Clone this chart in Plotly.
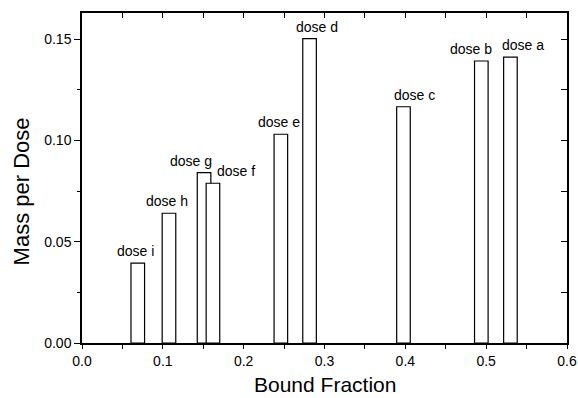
import plotly.graph_objects as go

labels = ["dose i", "dose h", "dose g", "dose f", "dose e", "dose d", "dose c", "dose b", "dose a"]
bound_fraction = [0.069, 0.1076, 0.151, 0.162, 0.246, 0.2815, 0.3977, 0.494, 0.530]
mass_per_dose = [0.0395, 0.0641, 0.0842, 0.0789, 0.1031, 0.1503, 0.1167, 0.1393, 0.1412]
bar_width = 0.0168
x_ticks = [0.0, 0.1, 0.2, 0.3, 0.4, 0.5, 0.6]
x_ticklabels = ["0.0", "0.1", "0.2", "0.3", "0.4", "0.5", "0.6"]
y_ticks = [0.00, 0.05, 0.10, 0.15]
y_ticklabels = ["0.00", "0.05", "0.10", "0.15"]

label_xshift = [-2, -2, -13, 23, -2, 7, 11, -10, 13]

FONT = "Liberation Sans, Arial, sans-serif"

fig = go.Figure()
fig.add_trace(go.Bar(
    x=bound_fraction, y=mass_per_dose, width=[bar_width] * len(bound_fraction),
    marker=dict(color="white", line=dict(color="black", width=1.2)),
    showlegend=False, hoverinfo="skip",
))
# invisible trace to activate top/right axes
fig.add_trace(go.Scatter(x=[0], y=[0], xaxis="x2", yaxis="y2", mode="markers",
                         marker=dict(opacity=0), showlegend=False, hoverinfo="skip"))

for lab, xv, yv, dx in zip(labels, bound_fraction, mass_per_dose, label_xshift):
    fig.add_annotation(x=xv, y=yv, text=lab, showarrow=False, xanchor="center", yanchor="bottom",
                       xshift=dx, yshift=2, font=dict(family=FONT, size=14, color="black"))

fig.add_annotation(xref="paper", yref="paper", x=-0.124, y=0.459, text="Mass per Dose",
                   textangle=-90, showarrow=False, xanchor="center", yanchor="middle",
                   font=dict(family=FONT, size=22, color="black"))
fig.add_annotation(xref="paper", yref="paper", x=0.5, y=-0.127, text="Bound Fraction",
                   showarrow=False, xanchor="center", yanchor="middle",
                   font=dict(family=FONT, size=21, color="black"))

fig.update_layout(
    width=578, height=398,
    margin=dict(l=82, r=11, t=13, b=55, autoexpand=False),
    plot_bgcolor="white", paper_bgcolor="white",
    font=dict(family=FONT, color="black"),
    xaxis=dict(range=[0, 0.6], tickvals=x_ticks, ticktext=x_ticklabels, automargin=False,
               showline=True, linecolor="black", linewidth=1.5, showgrid=False, zeroline=False,
               ticks="outside", ticklen=4, tickcolor="black",
               minor=dict(dtick=0.05, tick0=0, ticks="outside", ticklen=4, tickcolor="black"),
               tickfont=dict(family=FONT, size=14, color="black")),
    yaxis=dict(range=[0, 0.163], tickvals=y_ticks, ticktext=y_ticklabels, automargin=False,
               showline=True, linecolor="black", linewidth=1.5, showgrid=False, zeroline=False,
               ticks="outside", ticklen=6, tickcolor="black",
               minor=dict(dtick=0.025, tick0=0, ticks="outside", ticklen=3, tickcolor="black"),
               tickfont=dict(family=FONT, size=14, color="black")),
    xaxis2=dict(range=[0, 0.6], overlaying="x", side="top", showline=True, linecolor="black",
                linewidth=1.5, showgrid=False, zeroline=False, ticks="inside", ticklen=5, automargin=False,
                dtick=0.05, tick0=0, showticklabels=False, tickcolor="black"),
    yaxis2=dict(range=[0, 0.163], overlaying="y", side="right", showline=True, linecolor="black",
                linewidth=1.5, showgrid=False, zeroline=False, ticks="inside", ticklen=6, automargin=False,
                dtick=0.025, tick0=0, showticklabels=False, tickcolor="black"),
)

fig.write_html("out.html")
